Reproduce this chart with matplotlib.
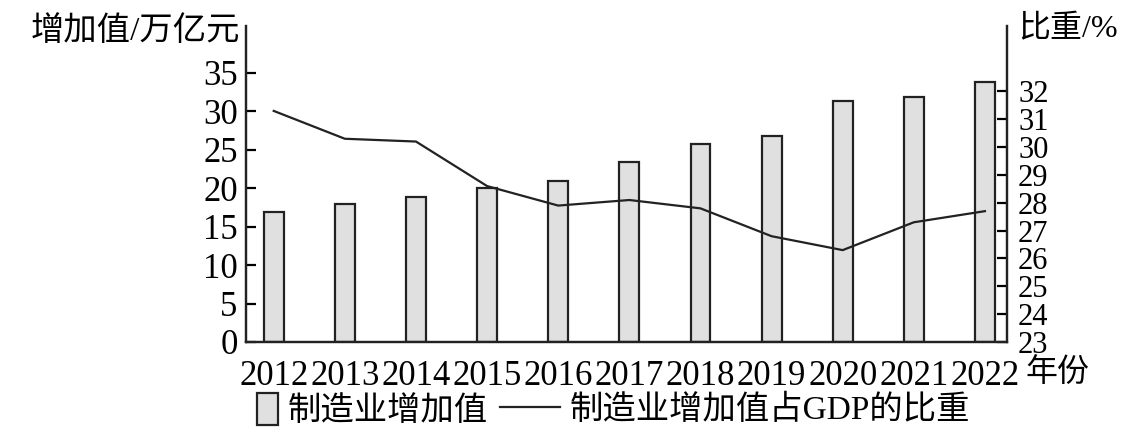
import matplotlib
matplotlib.use('Agg')
import matplotlib.pyplot as plt
from matplotlib.patches import Patch
from matplotlib.lines import Line2D
import numpy as np

plt.rcParams['font.family'] = ['Liberation Serif', 'Noto Sans CJK SC']

years = ['2012', '2013', '2014', '2015', '2016', '2017', '2018', '2019', '2020', '2021', '2022']
added_value = [16.9, 17.9, 18.9, 20.0, 20.9, 23.4, 25.8, 26.8, 31.4, 31.9, 33.8]
share = [31.3, 30.3, 30.2, 28.6, 27.9, 28.1, 27.8, 26.8, 26.3, 27.3, 27.7]

W, H = 1148, 442
fig = plt.figure(figsize=(W / 100, H / 100), dpi=100)
ax = fig.add_axes([246 / W, 1 - 342 / H, (1007 - 246) / W, (342 - 26) / H])
ax2 = ax.twinx()

x = np.arange(len(years))
ax.bar(x, added_value, width=0.28, color='#e0e0e0', edgecolor='#222222', linewidth=1.6, zorder=2)
ax2.plot(x, share, color='#222222', linewidth=1.6)

ax.set_xlim(-0.39, 10.31)
ax.set_ylim(0, 41.1)
ax2.set_ylim(23, 34.35)
ax.set_yticks(range(0, 36, 5))
ax2.set_yticks(range(23, 33))
ax.set_xticks(x)
ax.set_xticklabels(years)

for a in (ax, ax2):
    a.spines['top'].set_visible(False)
    for s in a.spines.values():
        s.set_linewidth(1.6)
        s.set_color('#222222')
ax.tick_params(axis='x', length=0, pad=13, labelsize=25)
ax.tick_params(axis='y', direction='in', length=7, width=1.6, pad=6, labelsize=25)
ax2.tick_params(axis='y', direction='in', length=7, width=1.6, pad=8, labelsize=22)

fig.text(240 / W, 1 - 32 / H, '增加值/万亿元', ha='right', va='center', fontsize=24)
fig.text(1018 / W, 1 - 30 / H, '比重/%', ha='left', va='center', fontsize=23)
fig.text(1025 / W, 1 - 374 / H, '年份', ha='left', va='center', fontsize=23)

h1 = Patch(facecolor='#e0e0e0', edgecolor='#222222', linewidth=1.6)
h2 = Line2D([], [], color='#222222', linewidth=1.6)
fig.legend([h1], ['制造业增加值'], loc='center left', bbox_to_anchor=(257 / W, 1 - 410 / H),
           frameon=False, fontsize=24, handlelength=0.62, handleheight=1.1, handletextpad=0.3,
           borderpad=0, borderaxespad=0)
fig.legend([h2], ['制造业增加值占GDP的比重'], loc='center left', bbox_to_anchor=(500 / W, 1 - 410 / H),
           frameon=False, fontsize=24, handlelength=1.8, handletextpad=0.3, borderpad=0, borderaxespad=0)

fig.savefig('out.png', dpi=100)
